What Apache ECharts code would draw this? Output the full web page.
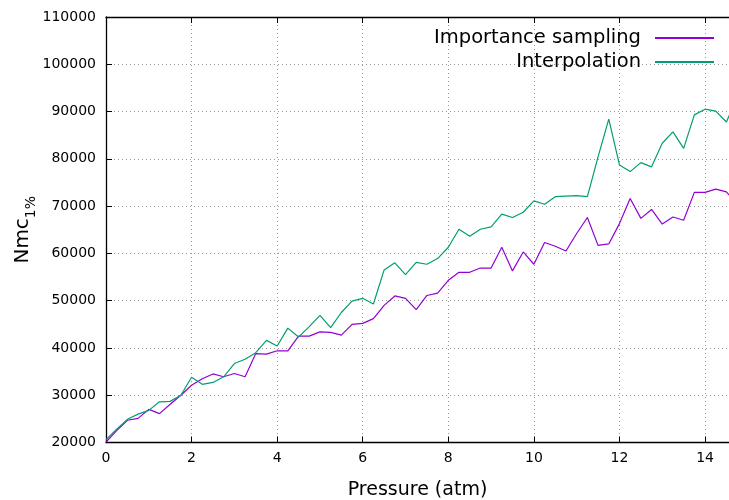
<!DOCTYPE html>
<html>
<head>
<meta charset="utf-8">
<script src="https://cdn.jsdelivr.net/npm/echarts@6/dist/echarts.min.js"></script>
<style>
  html, body { margin: 0; padding: 0; background: #fff; }
  #chart { width: 729px; height: 500px; }
</style>
</head>
<body>
<div id="chart"></div>
<script>
// pressure grid (atm), last point lies just past the visible range
const pressure = [
  0, 0.25, 0.5, 0.75, 1, 1.25, 1.5, 1.75, 2, 2.25, 2.5, 2.75,
  3, 3.25, 3.5, 3.75, 4, 4.25, 4.5, 4.75, 5, 5.25, 5.5, 5.75,
  6, 6.25, 6.5, 6.75, 7, 7.25, 7.5, 7.75, 8, 8.25, 8.5, 8.75,
  9, 9.25, 9.5, 9.75, 10, 10.25, 10.5, 10.75, 11, 11.25, 11.5, 11.75,
  12, 12.25, 12.5, 12.75, 13, 13.25, 13.5, 13.75, 14, 14.25, 14.5, 14.75,
];

const importanceSampling = [
  20100, 22500, 24700, 25100, 27000, 26100, 28100, 30000, 32100, 33500, 34500, 33900,
  34600, 33900, 38800, 38700, 39400, 39400, 42500, 42500, 43400, 43300, 42700, 45000,
  45200, 46200, 49000, 51000, 50500, 48100, 51100, 51600, 54300, 56000, 56000, 56900,
  56900, 61300, 56300, 60300, 57700, 62300, 61500, 60500, 64200, 67600, 61700, 62000,
  66300, 71600, 67400, 69300, 66200, 67700, 67000, 72900, 72900, 73600, 73000, 70400,
];

const interpolation = [
  20600, 22800, 24900, 26000, 26800, 28600, 28700, 30000, 33800, 32300, 32700, 33900,
  36700, 37600, 39000, 41600, 40400, 44200, 42300, 44500, 46900, 44300, 47500, 49900,
  50500, 49300, 56500, 58000, 55500, 58100, 57700, 58900, 61300, 65100, 63600, 65100,
  65600, 68300, 67600, 68700, 71100, 70400, 72000, 72100, 72200, 72000, 80400, 88400,
  78700, 77300, 79200, 78300, 83300, 85700, 82200, 89300, 90500, 90100, 87800, 93100,
];

const FONT = 'DejaVu Sans';
const X_MAX = 14.56;

const pairs = (ys) => pressure.map((x, i) => [x, ys[i]]);

const chart = echarts.init(document.getElementById('chart'));

const gridLine = {
  show: true,
  lineStyle: { color: '#9a9a9a', type: [1, 3], width: 1 },
};

chart.setOption({
  animation: false,
  color: ['#9400d3', '#009e73'],
  textStyle: { fontFamily: FONT },
  grid: {
    left: 106, right: 0, top: 17, bottom: 57.5,
    containLabel: false,
    outerBoundsMode: 'none',
  },
  legend: {
    orient: 'vertical',
    right: 10,
    top: 22,
    align: 'right',
    icon: 'rect',
    itemWidth: 59,
    itemHeight: 2,
    itemGap: 2,
    selectedMode: false,
    textStyle: {
      fontFamily: FONT,
      fontSize: 19.5,
      color: '#000',
      lineHeight: 22,
      padding: [0, 9, 0, 0],
    },
    data: ['Importance sampling', 'Interpolation'],
  },
  xAxis: [
    {
      type: 'value',
      min: 0,
      max: X_MAX,
      interval: 2,
      name: 'Pressure (atm)',
      nameLocation: 'middle',
      nameGap: 38,
      nameTextStyle: { fontFamily: FONT, fontSize: 19, color: '#000' },
      axisLine: { show: true, onZero: false, lineStyle: { color: '#000', width: 1.3 } },
      axisTick: { show: true, inside: true, length: 6, lineStyle: { color: '#000' } },
      axisLabel: {
        fontFamily: FONT, fontSize: 14, color: '#000', margin: 9,
        showMaxLabel: false,
      },
      splitLine: gridLine,
    },
    {
      type: 'value',
      position: 'top',
      min: 0,
      max: X_MAX,
      interval: 2,
      axisLine: { show: true, onZero: false, lineStyle: { color: '#000', width: 1.3 } },
      axisTick: { show: true, inside: true, length: 6, lineStyle: { color: '#000' } },
      axisLabel: { show: false },
      splitLine: { show: false },
    },
  ],
  yAxis: {
    type: 'value',
    min: 20000,
    max: 110000,
    interval: 10000,
    name: '{a|Nmc}{b|1%}',
    nameLocation: 'middle',
    nameGap: 68,
    nameMoveOverlap: false,
    nameTextStyle: {
      rich: {
        a: { fontFamily: FONT, fontSize: 20, color: '#000', lineHeight: 30 },
        b: { fontFamily: FONT, fontSize: 14, color: '#000', lineHeight: 30, verticalAlign: 'bottom' },
      },
    },
    axisLine: { show: true, onZero: false, lineStyle: { color: '#000', width: 1.3 } },
    axisTick: { show: true, inside: true, length: 6, lineStyle: { color: '#000' } },
    axisLabel: {
      fontFamily: FONT, fontSize: 14, color: '#000', margin: 10,
      formatter: (v) => String(v),
    },
    splitLine: gridLine,
  },
  series: [
    {
      name: 'Importance sampling',
      type: 'line',
      data: pairs(importanceSampling),
      showSymbol: false,
      clip: true,
      lineStyle: { width: 1.2 },
    },
    {
      name: 'Interpolation',
      type: 'line',
      data: pairs(interpolation),
      showSymbol: false,
      clip: true,
      lineStyle: { width: 1.2 },
    },
  ],
});
</script>
</body>
</html>
